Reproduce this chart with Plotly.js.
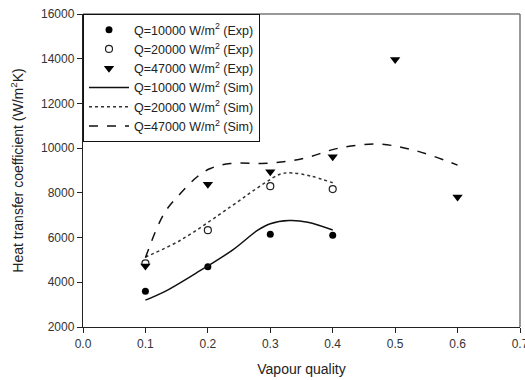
<!DOCTYPE html>
<html>
<head>
<meta charset="utf-8">
<script src="https://cdn.plot.ly/plotly-3.0.1.min.js"></script>
<style>html,body{margin:0;padding:0;background:#fff;}#chart{width:525px;height:380px;}</style>
</head>
<body>
<div id="chart"></div>
<script>
// Experimental data
const xExp = [0.1, 0.2, 0.3, 0.4];
const exp10 = [3600, 4700, 6150, 6100];
const exp20 = [4850, 6330, 8300, 8170];
const xExp47 = [0.1, 0.2, 0.3, 0.4, 0.5, 0.6];
const exp47 = [4730, 8380, 8940, 9610, 13970, 7820];

// Simulation curves
const sim10X = [0.1, 0.13, 0.18, 0.24, 0.28, 0.3, 0.33, 0.36, 0.4];
const sim10Y = [3200, 3570, 4390, 5450, 6330, 6620, 6760, 6690, 6340];
const sim20X = [0.1, 0.156, 0.236, 0.29, 0.317, 0.335, 0.365, 0.4];
const sim20Y = [5130, 5880, 7370, 8420, 8850, 8890, 8750, 8450];
const sim47X = [0.1, 0.13, 0.156, 0.183, 0.204, 0.236, 0.3, 0.354, 0.408, 0.472, 0.53, 0.6];
const sim47Y = [5100, 7080, 7970, 8720, 9090, 9310, 9330, 9540, 9990, 10180, 9910, 9240];

// Tick labels
const xTicks = [0, 0.1, 0.2, 0.3, 0.4, 0.5, 0.6, 0.7];
const xTickText = ['0.0', '0.1', '0.2', '0.3', '0.4', '0.5', '0.6', '0.7'];
const yTicks = [2000, 4000, 6000, 8000, 10000, 12000, 14000, 16000];
const yTickText = ['2000', '4000', '6000', '8000', '10000', '12000', '14000', '16000'];

const names = [
  'Q=10000 W/m<sup>2</sup> (Exp)',
  'Q=20000 W/m<sup>2</sup> (Exp)',
  'Q=47000 W/m<sup>2</sup> (Exp)',
  'Q=10000 W/m<sup>2</sup> (Sim)',
  'Q=20000 W/m<sup>2</sup> (Sim)',
  'Q=47000 W/m<sup>2</sup> (Sim)'
];

const font = 'Liberation Sans, Arial, sans-serif';
const traces = [
  {x: xExp, y: exp10, name: names[0], mode: 'markers', type: 'scatter',
   marker: {symbol: 'circle', size: 7, color: '#000'}},
  {x: xExp, y: exp20, name: names[1], mode: 'markers', type: 'scatter',
   marker: {symbol: 'circle-open', size: 7, color: '#222', line: {width: 1.2}}},
  {x: xExp47, y: exp47, name: names[2], mode: 'markers', type: 'scatter',
   marker: {symbol: 'triangle-down', size: 9, color: '#000'}},
  {x: sim10X, y: sim10Y, name: names[3], mode: 'lines', type: 'scatter',
   line: {color: '#111', width: 1.5, shape: 'spline', smoothing: 1}},
  {x: sim20X, y: sim20Y, name: names[4], mode: 'lines', type: 'scatter',
   line: {color: '#333', width: 1.5, dash: 'dot', shape: 'spline', smoothing: 1}},
  {x: sim47X, y: sim47Y, name: names[5], mode: 'lines', type: 'scatter',
   line: {color: '#111', width: 1.5, dash: 'dash', shape: 'spline', smoothing: 1}}
];

const layout = {
  width: 525, height: 380,
  margin: {l: 83, r: 5, t: 14, b: 53},
  paper_bgcolor: '#fff', plot_bgcolor: '#fff',
  font: {family: font, size: 12, color: '#222'},
  showlegend: true,
  legend: {x: 0, y: 1, xanchor: 'left', yanchor: 'top',
           bordercolor: '#111', borderwidth: 1, bgcolor: '#fff',
           font: {family: font, size: 12.5, color: '#222'}, tracegroupgap: 0,
           itemwidth: 40},
  xaxis: {range: [0, 0.7], tickmode: 'array', tickvals: xTicks, ticktext: xTickText,
          ticklabeloverflow: 'allow',
          showgrid: false, zeroline: false, showline: true, linecolor: '#222', linewidth: 1.2,
          ticks: 'outside', ticklen: 5, tickcolor: '#222',
          tickfont: {family: font, size: 12, color: '#333'},
          title: {text: 'Vapour quality', font: {family: font, size: 14, color: '#222'}, standoff: 14}},
  yaxis: {range: [2000, 16000], tickmode: 'array', tickvals: yTicks, ticktext: yTickText,
          showgrid: false, zeroline: false, showline: true, linecolor: '#222', linewidth: 1.2,
          ticks: 'outside', ticklen: 5, tickcolor: '#222',
          tickfont: {family: font, size: 12, color: '#333'},
          title: {text: 'Heat transfer coefficient (W/m<sup>2</sup>K)', font: {family: font, size: 14, color: '#222'}, standoff: 14}},
  shapes: [
    {type: 'line', xref: 'paper', yref: 'paper', x0: 0, x1: 1, y0: 1, y1: 1, line: {color: '#777', width: 1.5}},
    {type: 'line', xref: 'paper', yref: 'paper', x0: 1, x1: 1, y0: 0, y1: 1, line: {color: '#777', width: 1.5}}
  ]
};

Plotly.newPlot('chart', traces, layout, {displayModeBar: false, staticPlot: true});
</script>
</body>
</html>
